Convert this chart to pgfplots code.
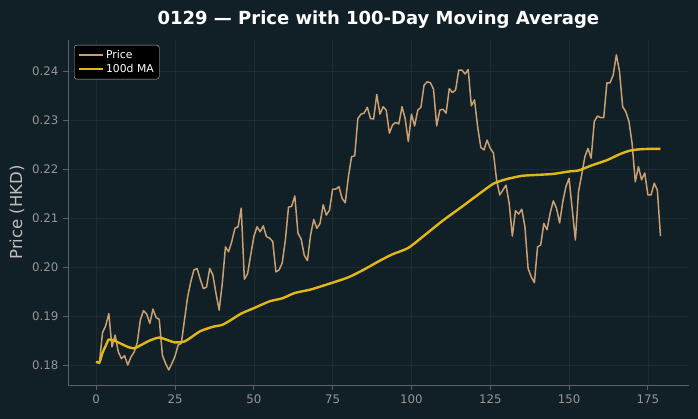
\documentclass[border=0pt]{standalone}
\usepackage{fontspec}
\setmainfont{DejaVu Sans}
\usepackage{pgfplots}
\pgfplotsset{compat=1.18}
\definecolor{bgc}{RGB}{17,31,38}
\definecolor{gridc}{RGB}{29,43,49}
\definecolor{spinec}{RGB}{90,98,102}
\definecolor{tickc}{RGB}{150,150,150}
\definecolor{labc}{RGB}{190,190,190}
\definecolor{pricec}{RGB}{200,160,115}
\definecolor{mac}{RGB}{226,184,24}
\begin{document}
\begin{tikzpicture}
\fill[bgc] (0,0) rectangle (698pt,419pt);
\begin{axis}[
  at={(68pt,34pt)}, anchor=south west,
  scale only axis, width=620.7pt, height=345pt,
  xmin=-8.95, xmax=187.95, ymin=0.17592, ymax=0.24633,
  axis x line*=bottom, axis y line*=left,
  axis line style={spinec, line width=0.8pt},
  xtick={0,25,50,75,100,125,150,175},
  ytick={0.18,0.19,0.20,0.21,0.22,0.23,0.24},
  yticklabel style={xshift=-1pt, /pgf/number format/.cd,fixed,precision=2,fixed zerofill},
  xticklabel style={yshift=-1pt},
  /pgf/number format/assume math mode=true,
  tick align=outside, major tick length=5pt,
  tick style={spinec, line width=0.8pt},
  ticklabel style={font=\fontsize{11.8}{13}\selectfont, color=tickc},
  grid=major, major grid style={gridc, line width=0.6pt},
  title={\bfseries 0129 — Price with 100-Day Moving Average},
  title style={font=\fontsize{18}{20}\selectfont, color=white, yshift=2pt},
  ylabel={Price (HKD)},
  every axis y label/.style={at={(axis description cs:-0.0822,0.5)}, rotate=90, anchor=center, font=\fontsize{16.5}{18}\selectfont, color=labc},
  legend style={at={(0.0097,0.9855)}, anchor=north west, fill=black, draw=labc, rounded corners=2.5pt, text=white, font=\fontsize{10.8}{13}\selectfont, inner xsep=3.5pt, inner ysep=3pt, row sep=0.5pt},
  legend cell align=left,
  legend image code/.code={\draw[#1] (0pt,0pt) -- (24pt,0pt);},
]
\addplot[pricec, line width=1.5pt, line join=round] table {
x y
0 0.1807
1 0.1803
2 0.1866
3 0.1880
4 0.1905
5 0.1837
6 0.1861
7 0.1827
8 0.1813
9 0.1819
10 0.1800
11 0.1816
12 0.1826
13 0.1845
14 0.1892
15 0.1911
16 0.1904
17 0.1885
18 0.1914
19 0.1897
20 0.1893
21 0.1820
22 0.1803
23 0.1790
24 0.1803
25 0.1818
26 0.1841
27 0.1844
28 0.1892
29 0.1939
30 0.1970
31 0.1994
32 0.1997
33 0.1975
34 0.1956
35 0.1959
36 0.1997
37 0.1984
38 0.1946
39 0.1912
40 0.1967
41 0.2041
42 0.2031
43 0.2052
44 0.2079
45 0.2082
46 0.2120
47 0.1975
48 0.1986
49 0.2024
50 0.2062
51 0.2082
52 0.2072
53 0.2084
54 0.2062
55 0.2059
56 0.2052
57 0.1990
58 0.1994
59 0.2008
60 0.2055
61 0.2122
62 0.2124
63 0.2145
64 0.2069
65 0.2057
66 0.2024
67 0.2013
68 0.2065
69 0.2097
70 0.2079
71 0.2089
72 0.2127
73 0.2106
74 0.2116
75 0.2159
76 0.2159
77 0.2164
78 0.2140
79 0.2131
80 0.2184
81 0.2225
82 0.2227
83 0.2303
84 0.2312
85 0.2314
86 0.2326
87 0.2303
88 0.2302
89 0.2352
90 0.2312
91 0.2327
92 0.2320
93 0.2273
94 0.2290
95 0.2295
96 0.2292
97 0.2327
98 0.2303
99 0.2256
100 0.2312
101 0.2288
102 0.2320
103 0.2326
104 0.2371
105 0.2378
106 0.2376
107 0.2363
108 0.2288
109 0.2320
110 0.2322
111 0.2314
112 0.2364
113 0.2356
114 0.2361
115 0.2402
116 0.2402
117 0.2394
118 0.2403
119 0.2329
120 0.2341
121 0.2286
122 0.2244
123 0.2239
124 0.2259
125 0.2242
126 0.2233
127 0.2178
128 0.2147
129 0.2157
130 0.2167
131 0.2130
132 0.2063
133 0.2115
134 0.2108
135 0.2118
136 0.2082
137 0.1997
138 0.1980
139 0.1968
140 0.2041
141 0.2045
142 0.2089
143 0.2076
144 0.2110
145 0.2135
146 0.2120
147 0.2090
148 0.2133
149 0.2164
150 0.2181
151 0.2118
152 0.2055
153 0.2154
154 0.2188
155 0.2225
156 0.2242
157 0.2222
158 0.2297
159 0.2308
160 0.2305
161 0.2305
162 0.2376
163 0.2376
164 0.2392
165 0.2433
166 0.2399
167 0.2327
168 0.2317
169 0.2297
170 0.2252
171 0.2174
172 0.2205
173 0.2178
174 0.2192
175 0.2147
176 0.2147
177 0.2171
178 0.2157
179 0.2063
};
\addlegendentry{Price}
\addplot[mac, line width=2.4pt, line join=round, smooth, tension=0.4] table {
x y
0 0.1807
1 0.1805
2 0.1825
3 0.1839
4 0.1852
6 0.1849
8 0.1843
10 0.1837
12 0.1834
14 0.1840
17 0.1850
20 0.1856
23 0.1850
25 0.1846
28 0.1848
30 0.1856
33 0.1869
37 0.1878
40 0.1882
43 0.1893
46 0.1905
50 0.1916
55 0.1930
59 0.1936
63 0.1947
68 0.1954
74 0.1966
80 0.1979
85 0.1995
90 0.2013
94 0.2026
99 0.2039
104 0.2064
110 0.2095
116 0.2123
121 0.2147
126 0.2170
130 0.2179
135 0.2186
140 0.2188
145 0.2190
150 0.2195
153 0.2197
157 0.2207
162 0.2218
166 0.2230
169 0.2237
172 0.2240
175 0.2241
179 0.2241
};
\addlegendentry{100d MA}
\end{axis}
\pgfresetboundingbox
\useasboundingbox (0,0) rectangle (698pt,419pt);
\end{tikzpicture}
\end{document}
